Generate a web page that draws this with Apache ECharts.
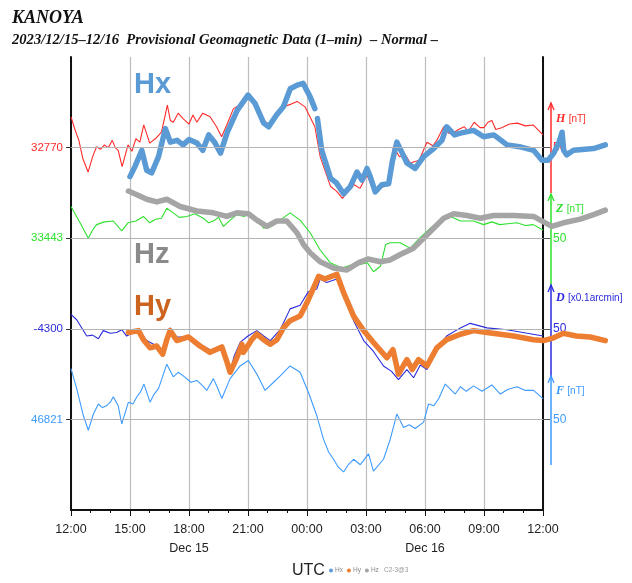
<!DOCTYPE html>
<html lang="en">
<head>
<meta charset="UTF-8">
<title>KANOYA geomagnetic data</title>
<script src="https://cdn.jsdelivr.net/npm/echarts@6/dist/echarts.min.js"></script>
<style>html,body{margin:0;background:#fff}#chart{width:632px;height:583px}</style>
</head>
<body>
<div id="chart"></div>
<script>
// time = hours after 12:00 UTC Dec 15
var hTime = [0,0.2,0.4,0.6,0.87,1.1,1.3,1.5,1.7,1.9,2.1,2.25,2.4,2.6,2.9,3.1,3.3,3.5,3.7,4.0,4.3,4.6,4.9,5.05,5.2,5.45,5.7,6.0,6.2,6.4,6.7,7.07,7.4,7.66,7.92,8.26,8.5,8.77,9.1,9.5,9.8,10.1,10.4,10.8,11.2,11.5,11.9,12.4,12.67,13.2,13.5,13.8,14.1,14.4,14.7,15.05,15.4,15.8,16.1,16.4,16.7,17.0,17.25,17.7,18.1,18.4,18.6,18.95,19.2,19.4,19.7,20,20.2,20.5,20.8,21,21.2,21.4,21.6,21.9,22.3,22.7,23.1,23.5,24];
var hVal  = [32804,32790,32778,32758,32743,32760,32771,32768,32773,32770,32778,32770,32767,32749,32773,32766,32780,32776,32795,32775,32780,32787,32817,32800,32798,32808,32802,32796,32806,32798,32808,32804,32793,32782,32795,32813,32816,32822,32828,32812,32800,32795,32805,32815,32818,32821,32815,32793,32760,32727,32722,32714,32722,32729,32725,32740,32721,32726,32729,32771,32760,32762,32753,32756,32776,32772,32778,32793,32786,32786,32790,32793,32788,32798,32792,32792,32798,32800,32790,32792,32796,32797,32794,32795,32784];

var zTime = [0,0.46,0.88,1.1,1.3,1.7,2.15,2.58,2.9,3.3,3.68,4.0,4.3,4.6,4.87,5.2,5.5,5.89,6.3,6.73,7.0,7.24,7.5,7.75,8.1,8.43,8.8,9.1,9.4,9.79,10.2,10.63,11.14,11.65,12.16,12.67,13.18,13.78,14.2,14.71,15.07,15.38,15.73,16.0,16.23,16.74,17.25,17.76,18.27,18.78,19.1,19.8,20.47,20.98,21.4,21.8,22.2,22.68,23.1,23.5,24];
var zVal  = [33478,33460,33443,33452,33458,33461,33462,33451,33460,33462,33467,33460,33464,33465,33476,33471,33466,33467,33470,33465,33460,33462,33466,33456,33463,33469,33467,33471,33466,33454,33456,33463,33471,33463,33449,33430,33416,33410,33413,33414,33416,33406,33412,33436,33438,33438,33432,33444,33454,33463,33469,33462,33462,33458,33461,33458,33459,33460,33457,33458,33452];

var dTime = [0,0.29,0.8,1.1,1.39,1.64,2.0,2.32,2.58,2.83,3.43,3.85,4.36,4.66,5.04,5.38,5.97,6.56,7.24,7.67,8.09,8.3,8.6,9.0,9.45,9.8,10.13,10.64,11.14,11.65,12.07,12.5,12.67,13.0,13.52,13.86,14.37,14.88,15.38,15.89,16.3,16.65,17.08,17.42,17.76,18.1,18.6,19.1,19.8,20.3,21.15,22.17,23.2,24];
var dVal  = [-4284,-4290,-4308,-4307,-4311,-4302,-4305,-4304,-4301,-4308,-4301,-4313,-4319,-4325,-4299,-4309,-4309,-4317,-4325,-4320,-4347,-4330,-4315,-4308,-4302,-4308,-4313,-4301,-4278,-4274,-4259,-4256,-4245,-4249,-4245,-4264,-4291,-4313,-4325,-4341,-4347,-4356,-4345,-4354,-4340,-4345,-4321,-4308,-4299,-4294,-4299,-4301,-4305,-4308];

var fTime = [0,0.29,0.63,0.88,1.14,1.39,1.6,1.8,2.0,2.15,2.4,2.58,2.92,3.15,3.35,3.55,3.71,4.02,4.2,4.45,4.87,5.2,5.45,5.71,6.1,6.4,6.7,6.9,7.24,7.45,7.67,8.09,8.6,9.02,9.45,9.87,10.3,10.64,11.14,11.65,12.07,12.5,12.84,13.1,13.35,13.6,13.86,14.1,14.37,14.71,15.13,15.38,15.89,16.23,16.57,16.91,17.2,17.5,17.93,18.18,18.45,18.7,19.03,19.54,19.8,20.1,20.47,20.9,21.4,21.83,22.2,22.68,23.1,23.52,24];
var fVal  = [46877,46855,46825,46809,46827,46838,46834,46836,46840,46846,46836,46816,46840,46838,46846,46852,46860,46840,46848,46855,46882,46868,46873,46869,46862,46864,46858,46853,46866,46856,46844,46866,46880,46886,46871,46853,46862,46869,46880,46873,46851,46825,46799,46785,46777,46768,46763,46771,46777,46771,46783,46764,46777,46799,46827,46812,46815,46811,46818,46838,46836,46844,46860,46849,46857,46852,46858,46852,46859,46849,46854,46857,46853,46853,46844];

// overlay sensors (Hx on H scale, Hz on Z scale, Hy on D scale), running past 12:00
var hxTime = [3.0,3.25,3.6,3.85,4.1,4.45,4.8,5.05,5.4,5.7,6.0,6.4,6.7,7.0,7.3,7.6,7.95,8.45,9.0,9.35,9.8,10.05,10.45,10.8,11.15,11.5,11.8,12.16,12.4,12.47,12.53,12.75,13.2,13.5,13.86,14.2,14.54,14.8,15.05,15.2,15.47,15.8,16.15,16.35,16.57,16.82,17.08,17.5,17.93,18.44,18.86,19.1,19.5,19.8,20.47,20.98,21.5,22.17,22.8,23.52,23.95,24.26,24.55,24.8,24.97,25.05,25.2,25.55,26.0,26.57,27.17];
var hxVal  = [32738,32749,32767,32745,32742,32760,32791,32776,32778,32773,32779,32775,32767,32784,32776,32764,32787,32811,32828,32819,32797,32793,32806,32815,32835,32839,32841,32826,32813,'-',32802,32767,32736,32731,32719,32727,32743,32734,32747,32739,32721,32729,32730,32756,32776,32765,32753,32747,32760,32769,32778,32793,32784,32786,32789,32782,32784,32773,32771,32767,32756,32756,32764,32775,32787,32767,32762,32767,32768,32769,32773];

var hzTime = [2.92,3.35,3.85,4.36,4.87,5.55,6.4,7.24,7.92,8.43,9.02,9.45,9.96,10.47,10.97,11.49,11.82,12.16,12.67,13.35,14.03,14.63,15.1,15.73,16.23,16.74,17.42,17.93,18.44,18.95,19.46,20.13,20.81,21.49,22.5,23.52,24.03,24.45,25.04,25.9,26.57,27.17];
var hzVal  = [33495,33491,33486,33483,33486,33478,33473,33471,33467,33471,33470,33463,33456,33462,33462,33449,33436,33427,33417,33410,33408,33416,33420,33417,33419,33425,33432,33443,33454,33465,33470,33468,33465,33468,33468,33467,33461,33456,33460,33464,33469,33474];

var hyTime = [2.92,3.43,3.68,4.02,4.36,4.66,4.87,5.04,5.38,5.97,6.56,7.07,7.67,7.92,8.09,8.43,8.69,8.77,9.19,9.45,9.79,10.13,10.47,10.8,11.14,11.65,12.0,12.33,12.59,12.9,13.52,13.86,14.37,14.88,15.38,16.06,16.37,16.65,17.08,17.35,17.67,18.1,18.6,19.1,19.8,20.47,21.15,22.5,23.52,24.03,24.54,25.04,25.7,26.4,27.17];
var hyVal  = [-4304,-4302,-4312,-4321,-4319,-4328,-4312,-4302,-4313,-4309,-4319,-4326,-4320,-4336,-4348,-4332,-4317,-4326,-4312,-4306,-4312,-4317,-4312,-4299,-4291,-4286,-4271,-4255,-4242,-4245,-4240,-4260,-4286,-4302,-4315,-4332,-4323,-4350,-4334,-4345,-4334,-4341,-4321,-4312,-4306,-4302,-4304,-4308,-4312,-4313,-4310,-4305,-4308,-4309,-4313];

var baseLabels = ['32770', '33443', '-4300', '46821'];
var scaleLabel = '50';

var cH = '#ff2b2b', cZ = '#2ee02e', cD = '#2b2bdd', cF = '#3d9bff';
var cHx = '#5b9bd5', cHy = '#ed7d31', cHz = '#a5a5a5';

// plot is 472px for 24 h; overlay grid runs the same scale out to 27.5 h
var overlayEnd = 27.5;
var overlayWidth = 472 * overlayEnd / 24;

function pairs(t, v) {
    return t.map(function (x, i) { return [x, v[i]]; });
}

function baseAxis(min, label, color, showLine) {
    var base = Number(label);
    return {
        type: 'value', position: 'left', min: min, max: min + 500,
        axisLine: {show: showLine, lineStyle: {color: '#111', width: 2}},
        axisTick: {show: true, customValues: [base], length: 5, lineStyle: {color: '#333'}},
        axisLabel: {customValues: [base], color: color, fontSize: 11.5, margin: 8,
                    fontFamily: 'Liberation Sans', formatter: function () { return label; }},
        splitLine: {show: false}
    };
}

function hiddenAxis(min) {
    return {type: 'value', gridIndex: 1, min: min, max: min + 500, show: false};
}

function baseLine(value) {
    return {
        silent: true, symbol: 'none', label: {show: false},
        lineStyle: {color: '#b4b4b4', width: 1.2, type: 'solid'},
        data: [{yAxis: value}]
    };
}

function thin(name, axis, t, v, color, base) {
    return {
        name: name, type: 'line', yAxisIndex: axis, data: pairs(t, v),
        showSymbol: false, lineStyle: {color: color, width: 1.1},
        itemStyle: {color: color}, markLine: baseLine(base), z: 2
    };
}

function thick(name, axis, t, v, color) {
    return {
        name: name, type: 'line', xAxisIndex: 1, yAxisIndex: axis, data: pairs(t, v),
        showSymbol: false, connectNulls: false,
        lineStyle: {color: color, width: 5.5, cap: 'round', join: 'round'},
        itemStyle: {color: color}, z: 4
    };
}

function timeLabel(v) {
    var hh = (12 + v) % 24;
    var s = (hh < 10 ? '0' : '') + hh + ':00';
    if (v === 6) s += '\nDec 15';
    if (v === 18) s += '\nDec 16';
    return s;
}

var serif = 'Liberation Serif';
var sideRich = {
    h: {fontFamily: serif, fontStyle: 'italic', fontWeight: 'bold', fontSize: 12},
    u: {fontFamily: 'Liberation Sans', fontSize: 10}
};
function sideLabel(y, letter, unit, color) {
    return {
        type: 'text', left: 556, top: y - 7, silent: true,
        style: {text: '{h|' + letter + '} {u|' + unit + '}', fill: color, rich: sideRich}
    };
}
function sideArrow(y0, y1, color) {
    return [
        {type: 'line', shape: {x1: 551, y1: y0, x2: 551, y2: y1}, style: {stroke: color, lineWidth: 1.5}},
        {type: 'polyline', shape: {points: [[548, y1 + 7], [551, y1], [554, y1 + 7]]},
         style: {stroke: color, lineWidth: 1.3, fill: null}}
    ];
}

var chart = echarts.init(document.getElementById('chart'));
chart.setOption({
    animation: false,
    grid: [
        {left: 71, right: 89, top: 57, bottom: 73, outerBoundsMode: 'none'},
        {left: 71, width: overlayWidth, top: 57, bottom: 73, outerBoundsMode: 'none'}
    ],
    legend: {
        data: ['Hx', 'Hy', 'Hz'], icon: 'circle', itemWidth: 4, itemHeight: 4, itemGap: 4,
        left: 329, top: 567, padding: 0,
        textStyle: {fontSize: 6.5, color: '#888', padding: [0, 0, 0, -3]}
    },
    xAxis: [
        {
            type: 'value', min: 0, max: 24, interval: 3,
            axisLine: {lineStyle: {color: '#111', width: 2}},
            axisTick: {length: 6, lineStyle: {color: '#111'}},
            minorTick: {show: true, splitNumber: 3, length: 3, lineStyle: {color: '#111'}},
            splitLine: {show: true, lineStyle: {color: '#bdbdbd', width: 1.2}},
            axisLabel: {formatter: timeLabel, fontSize: 12.5, color: '#222', margin: 10,
                        lineHeight: 19, fontFamily: 'Liberation Sans'}
        },
        {type: 'value', gridIndex: 1, min: 0, max: overlayEnd, show: false}
    ],
    yAxis: [
        baseAxis(32370, baseLabels[0], cH, true),
        baseAxis(33143, baseLabels[1], cZ, false),
        baseAxis(-4500, baseLabels[2], cD, false),
        baseAxis(46721, baseLabels[3], cF, false),
        {
            type: 'value', position: 'right', min: 0, max: 500,
            axisLine: {show: true, lineStyle: {color: '#111', width: 2}},
            axisTick: {show: true, customValues: [100, 200, 300, 400], length: 7, lineStyle: {color: '#555'}},
            axisLabel: {
                customValues: [100, 200, 300, 400], margin: 10, fontSize: 12, fontFamily: 'Liberation Sans',
                formatter: function (v) { return '{r' + v + '|' + scaleLabel + '}'; },
                rich: {r100: {color: cF}, r200: {color: cD}, r300: {color: cZ}, r400: {color: cH}}
            },
            splitLine: {show: false}
        },
        hiddenAxis(32370),
        hiddenAxis(33143),
        hiddenAxis(-4500)
    ],
    series: [
        thin('H', 0, hTime, hVal, cH, Number(baseLabels[0])),
        thin('Z', 1, zTime, zVal, cZ, Number(baseLabels[1])),
        thin('D', 2, dTime, dVal, cD, Number(baseLabels[2])),
        thin('F', 3, fTime, fVal, cF, Number(baseLabels[3])),
        thick('Hx', 5, hxTime, hxVal, cHx),
        thick('Hz', 6, hzTime, hzVal, cHz),
        thick('Hy', 7, hyTime, hyVal, cHy)
    ],
    graphic: [
        {type: 'text', left: 12, top: 9, style: {text: 'KANOYA', fill: '#111',
            font: 'italic bold 18px "Liberation Serif"'}},
        {type: 'text', left: 12, top: 33, style: {text: '2023/12/15\u201312/16  Provisional Geomagnetic Data (1\u2013min)  \u2013 Normal \u2013',
            fill: '#111', font: 'italic bold 14.6px "Liberation Serif"'}},
        {type: 'text', left: 134, top: 70, style: {text: 'Hx', fill: cHx,
            font: 'bold 29px "Liberation Sans"'}},
        {type: 'text', left: 134, top: 240, style: {text: 'Hz', fill: '#8a8a8a',
            font: 'bold 29px "Liberation Sans"'}},
        {type: 'text', left: 134, top: 292, style: {text: 'Hy', fill: '#cc6420',
            font: 'bold 29px "Liberation Sans"'}},
        {type: 'text', left: 292, top: 563, style: {text: 'UTC', fill: '#222',
            font: '16px "Liberation Sans"'}},
        {type: 'text', left: 384, top: 567, style: {text: 'C2-3@3', fill: '#999',
            font: '6.5px "Liberation Sans"'}},
        sideLabel(120, 'H', '[nT]', cH),
        sideLabel(210, 'Z', '[nT]', cZ),
        sideLabel(299, 'D', '[x0.1arcmin]', cD),
        sideLabel(392, 'F', '[nT]', cF)
    ].concat(sideArrow(193, 103, cH), sideArrow(287, 194, cZ),
             sideArrow(377, 285, cD), sideArrow(465, 376, cF))
});
</script>
</body>
</html>
